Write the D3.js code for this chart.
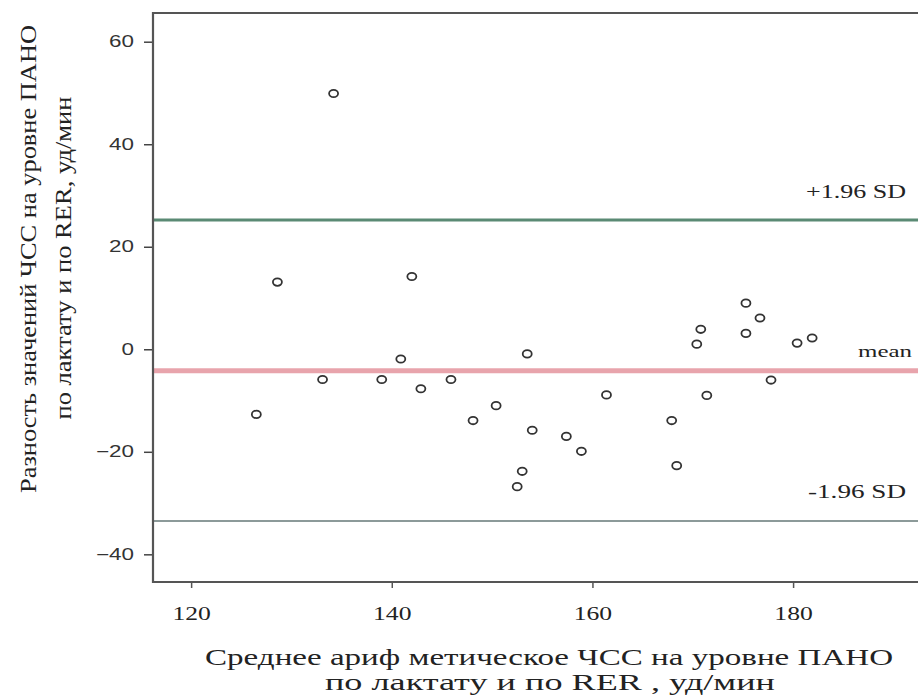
<!DOCTYPE html>
<html>
<head>
<meta charset="utf-8">
<script src="https://cdn.jsdelivr.net/npm/d3@7"></script>
<style>
  body { margin: 0; background: #fff; }
  svg { display: block; }
</style>
</head>
<body>
<svg width="918" height="695"></svg>
<script>
// mean of the two HR values (x) and their difference (y)
var meanHR = [126.5, 128.6, 134.2, 133.1, 139.0, 140.9, 142.0, 142.9, 145.9, 148.1,
              150.4, 152.5, 153.0, 153.5, 154.0, 157.4, 158.9, 161.4, 167.9, 168.4,
              170.4, 170.8, 171.4, 175.3, 175.3, 176.7, 177.8, 180.4, 181.9];
var diffHR = [-12.7, 13.1, 49.9, -5.9, -5.9, -1.9, 14.2, -7.7, -5.9, -13.9,
              -11.0, -26.8, -23.8, -0.9, -15.8, -17.0, -19.9, -8.9, -13.9, -22.7,
              1.0, 3.9, -9.0, 9.0, 3.1, 6.1, -6.0, 1.2, 2.2];

var xTicks = [120, 140, 160, 180];
var yTicks = [-40, -20, 0, 20, 40, 60];

var limitNames = ['+1.96 SD', 'mean', '-1.96 SD'];
var limitValues = [25.2, -4.2, -33.5];

var svg = d3.select('svg');

var plotLeft = 153, plotRight = 918, plotTop = 13, plotBottom = 582;
var serif = '"Liberation Serif", "Times New Roman", serif';

var x = d3.scaleLinear().domain([116.2, 192.45]).range([plotLeft, plotRight]);
var y = d3.scaleLinear().domain([-45.4, 65.6]).range([plotBottom, plotTop]);

// limit lines
var lineColor = ['#5a8a74', '#e8a4ac', '#8c9a99'];
var lineWidth = [3, 5, 2];
var labelY = [198, 357, 498];
var labelLen = [100, 54, 98];

svg.selectAll('.limit')
    .data(limitValues)
    .enter().append('line')
    .attr('class', 'limit')
    .attr('x1', plotLeft)
    .attr('x2', plotRight)
    .attr('y1', function(d){ return y(d); })
    .attr('y2', function(d){ return y(d); })
    .style('stroke', function(d, i){ return lineColor[i]; })
    .style('stroke-width', function(d, i){ return lineWidth[i]; });

svg.selectAll('.limit-label')
    .data(limitNames)
    .enter().append('text')
    .attr('class', 'limit-label')
    .attr('x', function(d, i){ return i == 1 ? 912 : 906; })
    .attr('y', function(d, i){ return labelY[i]; })
    .attr('text-anchor', 'end')
    .attr('textLength', function(d, i){ return labelLen[i]; })
    .attr('lengthAdjust', 'spacingAndGlyphs')
    .style('font-family', serif)
    .style('font-size', function(d, i){ return i == 1 ? '16px' : '18px'; })
    .style('fill', '#222')
    .text(function(d){ return d; });

// points
svg.selectAll('.pt')
    .data(meanHR)
    .enter().append('ellipse')
    .attr('class', 'pt')
    .attr('cx', function(d){ return x(d); })
    .attr('cy', function(d, i){ return y(diffHR[i]); })
    .attr('rx', 4.5)
    .attr('ry', 3.7)
    .style('fill', 'none')
    .style('stroke', '#333')
    .style('stroke-width', 1.8);

// axes
var yAxis = svg.append('g')
    .attr('transform', 'translate(' + plotLeft + ',0)')
    .call(d3.axisLeft(y).tickValues(yTicks).tickSize(9).tickSizeOuter(0).tickPadding(9));

yAxis.select('.domain').remove();
yAxis.selectAll('line').style('stroke', '#444').style('stroke-width', 1.5);
yAxis.selectAll('text')
    .attr('x', -19 / 1.4)
    .attr('transform', 'scale(1.4,1)')
    .style('font-family', '"Liberation Sans", Arial, sans-serif')
    .style('font-size', '16px')
    .style('fill', '#333');

var xAxis = svg.append('g')
    .attr('transform', 'translate(0,' + plotBottom + ')')
    .call(d3.axisBottom(x).tickValues(xTicks).tickSize(6).tickSizeOuter(0).tickPadding(19));

xAxis.select('.domain').remove();
xAxis.selectAll('line').style('stroke', '#555').style('stroke-width', 1.5);
// tick groups are translated, so scaling keeps labels centred
xAxis.selectAll('text')
    .attr('transform', 'scale(1.35,1)')
    .style('font-family', serif)
    .style('font-size', '19px')
    .style('fill', '#222');

// frame: left, bottom and top
svg.append('path')
    .attr('d', 'M' + plotRight + ',' + plotTop + 'H' + plotLeft + 'V' + plotBottom + 'H' + plotRight)
    .style('fill', 'none')
    .style('stroke', '#555')
    .style('stroke-width', 2.2);

// axis titles
var titleStyle = function(sel){
    sel.style('font-family', serif)
       .style('font-size', '23px')
       .style('fill', '#222')
       .attr('text-anchor', 'middle')
       .attr('lengthAdjust', 'spacingAndGlyphs');
};

svg.append('text')
    .attr('x', 549).attr('y', 665)
    .attr('textLength', 688)
    .call(titleStyle)
    .text('Среднее ариф метическое ЧСС на уровне ПАНО');

svg.append('text')
    .attr('x', 550).attr('y', 690)
    .attr('textLength', 450)
    .call(titleStyle)
    .text('по лактату и по RER , уд/мин');

svg.append('text')
    .attr('transform', 'translate(36,259) rotate(-90)')
    .attr('textLength', 468)
    .call(titleStyle)
    .text('Разность значений ЧСС на уровне ПАНО');

svg.append('text')
    .attr('transform', 'translate(71,258) rotate(-90)')
    .attr('textLength', 323)
    .call(titleStyle)
    .text('по лактату и по RER, уд/мин');
</script>
</body>
</html>
